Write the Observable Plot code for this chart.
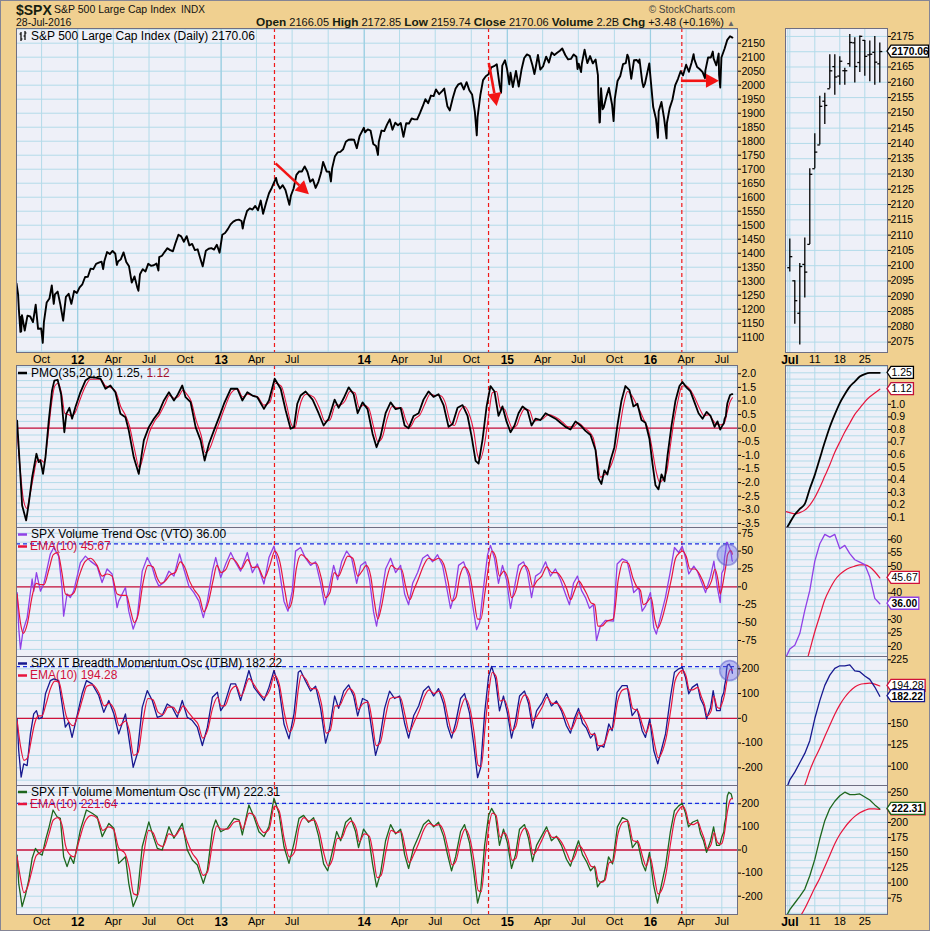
<!DOCTYPE html>
<html><head><meta charset="utf-8">
<script src="https://cdn.jsdelivr.net/npm/d3@7"></script>
<script src="https://cdn.jsdelivr.net/npm/@observablehq/plot@0.6"></script>
<style>
html,body{margin:0;padding:0;background:#f0d090;}
#root{position:relative;width:930px;height:931px;background:#f0d090;overflow:hidden;}
</style></head><body><div id="root"></div><script>
// ---------------- DATA ----------------
const spxWeekly = [["2011-07-29",1292],["2011-08-02",1254],["2011-08-04",1200],["2011-08-08",1119],["2011-08-09",1172],["2011-08-10",1121],["2011-08-12",1179],["2011-08-19",1124],["2011-08-26",1177],["2011-09-02",1174],["2011-09-09",1154],["2011-09-16",1216],["2011-09-22",1130],["2011-09-30",1131],["2011-10-04",1080],["2011-10-07",1155],["2011-10-14",1224],["2011-10-21",1238],["2011-10-27",1285],["2011-11-01",1219],["2011-11-04",1253],["2011-11-11",1263],["2011-11-18",1216],["2011-11-25",1159],["2011-12-02",1244],["2011-12-09",1255],["2011-12-16",1219],["2011-12-23",1265],["2011-12-30",1258],
["2012-01-06",1278],["2012-01-13",1289],["2012-01-20",1315],["2012-01-27",1316],["2012-02-03",1345],["2012-02-10",1343],["2012-02-17",1362],["2012-02-24",1366],["2012-03-02",1370],["2012-03-06",1343],["2012-03-09",1371],["2012-03-16",1404],["2012-03-23",1397],["2012-03-30",1408],["2012-04-06",1398],["2012-04-10",1358],["2012-04-13",1370],["2012-04-20",1378],["2012-04-27",1403],["2012-05-04",1369],["2012-05-11",1353],["2012-05-18",1295],["2012-05-25",1317],["2012-06-01",1278],["2012-06-04",1266],["2012-06-08",1325],["2012-06-15",1343],["2012-06-22",1335],["2012-06-29",1362],["2012-07-06",1355],["2012-07-13",1357],["2012-07-20",1363],["2012-07-25",1338],["2012-07-27",1386],["2012-08-03",1391],["2012-08-10",1405],["2012-08-17",1418],["2012-08-24",1411],["2012-08-31",1407],["2012-09-07",1438],["2012-09-14",1466],["2012-09-21",1460],["2012-09-28",1441],["2012-10-05",1461],["2012-10-12",1428],["2012-10-19",1433],["2012-10-26",1411],["2012-11-02",1414],["2012-11-09",1380],["2012-11-15",1353],["2012-11-23",1409],["2012-11-30",1416],["2012-12-07",1418],["2012-12-14",1413],["2012-12-21",1430],["2012-12-28",1402],
["2013-01-04",1466],["2013-01-11",1472],["2013-01-18",1486],["2013-01-25",1503],["2013-02-01",1513],["2013-02-08",1518],["2013-02-15",1520],["2013-02-22",1515],["2013-02-25",1488],["2013-03-01",1518],["2013-03-08",1551],["2013-03-15",1560],["2013-03-22",1556],["2013-03-29",1569],["2013-04-05",1553],["2013-04-12",1588],["2013-04-18",1541],["2013-04-26",1582],["2013-05-03",1614],["2013-05-10",1633],["2013-05-21",1669],["2013-05-24",1650],["2013-05-31",1631],["2013-06-07",1643],["2013-06-14",1626],["2013-06-24",1573],["2013-06-28",1606],["2013-07-05",1632],["2013-07-12",1680],["2013-07-19",1692],["2013-07-26",1692],["2013-08-02",1710],["2013-08-09",1691],["2013-08-16",1655],["2013-08-23",1664],["2013-08-30",1633],["2013-09-06",1655],["2013-09-13",1688],["2013-09-18",1726],["2013-09-27",1692],["2013-10-04",1691],["2013-10-08",1656],["2013-10-11",1703],["2013-10-18",1745],["2013-10-25",1760],["2013-11-01",1762],["2013-11-08",1771],["2013-11-15",1798],["2013-11-22",1805],["2013-11-29",1806],["2013-12-06",1805],["2013-12-13",1775],["2013-12-20",1818],["2013-12-31",1848],
["2014-01-03",1832],["2014-01-10",1842],["2014-01-17",1838],["2014-01-24",1790],["2014-01-31",1783],["2014-02-05",1751],["2014-02-07",1797],["2014-02-14",1838],["2014-02-21",1836],["2014-02-28",1859],["2014-03-07",1878],["2014-03-14",1841],["2014-03-21",1866],["2014-03-28",1857],["2014-04-04",1865],["2014-04-11",1816],["2014-04-18",1864],["2014-04-25",1863],["2014-05-02",1881],["2014-05-09",1878],["2014-05-16",1878],["2014-05-23",1900],["2014-05-30",1924],["2014-06-06",1950],["2014-06-13",1936],["2014-06-20",1963],["2014-06-27",1961],["2014-07-03",1985],["2014-07-11",1968],["2014-07-18",1978],["2014-07-24",1988],["2014-08-01",1925],["2014-08-07",1910],["2014-08-15",1955],["2014-08-22",1988],["2014-08-29",2003],["2014-09-05",2007],["2014-09-12",1985],["2014-09-19",2011],["2014-09-26",1982],["2014-10-03",1967],["2014-10-10",1906],["2014-10-15",1821],["2014-10-17",1886],["2014-10-24",1964],["2014-10-31",2018],["2014-11-07",2032],["2014-11-14",2039],["2014-11-21",2064],["2014-11-28",2068],["2014-12-05",2075],["2014-12-12",2002],["2014-12-16",1973],["2014-12-19",2070],["2014-12-26",2089],["2014-12-31",2059],
["2015-01-06",2003],["2015-01-09",2045],["2015-01-15",1993],["2015-01-23",2051],["2015-01-30",1995],["2015-02-06",2055],["2015-02-13",2097],["2015-02-20",2110],["2015-02-27",2105],["2015-03-06",2071],["2015-03-11",2040],["2015-03-13",2053],["2015-03-20",2108],["2015-03-26",2056],["2015-04-02",2067],["2015-04-10",2102],["2015-04-17",2081],["2015-04-24",2117],["2015-05-01",2108],["2015-05-08",2116],["2015-05-15",2123],["2015-05-21",2131],["2015-05-29",2107],["2015-06-05",2092],["2015-06-12",2094],["2015-06-19",2110],["2015-06-26",2102],["2015-06-29",2058],["2015-07-02",2077],["2015-07-08",2047],["2015-07-10",2077],["2015-07-17",2127],["2015-07-24",2079],["2015-07-31",2104],["2015-08-07",2078],["2015-08-14",2092],["2015-08-20",2036],["2015-08-21",1971],["2015-08-24",1867],["2015-08-25",1868],["2015-08-28",1989],["2015-09-01",1914],["2015-09-04",1921],["2015-09-11",1961],["2015-09-17",1990],["2015-09-25",1931],["2015-09-29",1872],["2015-10-02",1951],["2015-10-09",2015],["2015-10-16",2033],["2015-10-23",2075],["2015-10-30",2079],["2015-11-03",2109],["2015-11-06",2099],["2015-11-13",2023],["2015-11-20",2089],["2015-11-27",2090],["2015-12-02",2080],["2015-12-04",2092],["2015-12-11",2012],["2015-12-14",1993],["2015-12-18",2006],["2015-12-29",2078],["2015-12-31",2044],
["2016-01-08",1922],["2016-01-15",1880],["2016-01-20",1812],["2016-01-22",1907],["2016-01-29",1940],["2016-02-05",1880],["2016-02-11",1810],["2016-02-12",1865],["2016-02-19",1918],["2016-02-26",1948],["2016-03-04",1999],["2016-03-11",2022],["2016-03-18",2050],["2016-03-24",2035],["2016-04-01",2073],["2016-04-08",2048],["2016-04-15",2081],["2016-04-20",2111],["2016-04-22",2092],["2016-04-29",2065],["2016-05-06",2057],["2016-05-13",2047],["2016-05-19",2025],["2016-05-20",2052],["2016-05-27",2099],["2016-06-03",2099],["2016-06-08",2120],["2016-06-10",2096],["2016-06-17",2071],["2016-06-23",2113],["2016-06-24",2037],["2016-06-27",1992],["2016-06-30",2099],["2016-07-08",2130],["2016-07-15",2162],["2016-07-22",2175],["2016-07-28",2170]];

// oscillators: [decimal year, value]
const pmoLine = [[2011.577,0.28],[2011.595,-1.31],[2011.612,-2.84],[2011.640,-3.39],[2011.658,-2.78],[2011.682,-1.80],[2011.712,-0.94],[2011.728,-1.25],[2011.740,-1.19],[2011.758,-1.68],[2011.775,-1.07],[2011.798,0.28],[2011.821,1.39],[2011.837,1.75],[2011.860,1.78],[2011.884,1.26],[2011.907,-0.15],[2011.921,0.53],[2011.942,0.75],[2011.961,0.35],[2011.984,0.77],[2012.019,1.32],[2012.054,1.75],[2012.089,1.88],[2012.124,1.86],[2012.159,1.82],[2012.194,1.45],[2012.228,1.57],[2012.263,1.32],[2012.298,0.53],[2012.333,0.40],[2012.356,-0.08],[2012.391,-1.07],[2012.426,-1.68],[2012.461,-0.45],[2012.496,0.04],[2012.531,0.35],[2012.566,0.59],[2012.601,1.02],[2012.636,1.32],[2012.671,1.02],[2012.694,1.20],[2012.729,1.57],[2012.752,1.14],[2012.787,0.96],[2012.822,0.04],[2012.857,-0.45],[2012.885,-1.19],[2012.915,-0.57],[2012.950,-0.08],[2012.985,0.40],[2013.020,0.90],[2013.067,1.45],[2013.113,1.45],[2013.148,1.02],[2013.183,1.32],[2013.218,1.20],[2013.253,1.14],[2013.299,0.71],[2013.334,1.02],[2013.374,1.82],[2013.416,1.45],[2013.451,0.65],[2013.485,-0.02],[2013.509,0.04],[2013.532,0.90],[2013.555,1.20],
[2013.590,1.35],[2013.639,1.05],[2013.681,0.55],[2013.716,0.10],[2013.751,0.35],[2013.793,1.05],[2013.821,0.75],[2013.856,1.10],[2013.891,1.50],[2013.926,1.25],[2013.954,0.55],[2013.988,0.95],[2014.023,0.70],[2014.058,-0.20],[2014.086,-0.70],[2014.114,-0.30],[2014.149,0.55],[2014.184,0.95],[2014.219,0.70],[2014.254,0.75],[2014.282,0.10],[2014.310,0.00],[2014.345,0.45],[2014.380,0.55],[2014.414,1.05],[2014.449,1.35],[2014.484,1.15],[2014.519,1.25],[2014.554,0.85],[2014.589,0.05],[2014.617,0.15],[2014.652,0.75],[2014.687,0.85],[2014.722,0.45],[2014.750,-0.30],[2014.778,-1.20],[2014.799,-1.30],[2014.827,-0.40],[2014.855,0.80],[2014.882,1.55],[2014.910,1.35],[2014.938,0.45],[2014.966,0.80],[2014.994,0.25],[2015.022,-0.15],[2015.050,0.10],[2015.078,0.55],[2015.106,0.80],[2015.141,0.65],[2015.169,0.10],[2015.197,0.35],[2015.232,0.30],[2015.267,0.55],[2015.301,0.45],[2015.336,0.35],[2015.371,0.20],[2015.406,0.05],[2015.441,-0.05],[2015.476,0.25],[2015.511,0.10],[2015.546,-0.10],[2015.581,-0.25],[2015.616,-0.80],[2015.637,-1.85],[2015.657,-2.05],[2015.678,-1.55],[2015.699,-1.70],[2015.720,-1.20],[2015.748,-0.70],[2015.769,0.10],[2015.797,1.00],[2015.825,1.55],[2015.853,1.40],[2015.881,0.80],[2015.909,0.90],[2015.937,0.30],[2015.965,0.20],[2015.993,-0.40],[2016.014,-1.30],[2016.035,-2.10],[2016.056,-2.25],[2016.077,-1.70],[2016.098,-1.95],[2016.119,-1.00],[2016.147,0.10],[2016.174,1.00],[2016.202,1.55],[2016.223,1.70],[2016.251,1.50],[2016.279,1.35],[2016.307,0.95],[2016.335,0.55],[2016.363,0.35],[2016.391,0.60],[2016.419,0.45],[2016.447,0.05],[2016.467,0.25],[2016.486,-0.05],[2016.497,0.06],[2016.511,0.17],[2016.516,0.33],[2016.525,0.44],[2016.530,0.70],[2016.536,0.92],[2016.546,1.08],[2016.555,1.22],[2016.566,1.25],[2016.571,1.25]];
const pmoSignal = [[2011.577,-0.10],[2011.600,-1.60],[2011.620,-2.60],[2011.645,-2.95],[2011.665,-2.50],[2011.690,-1.80],[2011.715,-1.20],[2011.740,-1.15],[2011.765,-1.25],[2011.790,-0.40],[2011.815,0.80],[2011.840,1.55],[2011.865,1.65],[2011.890,1.20],[2011.910,0.55],[2011.935,0.50],[2011.960,0.45],[2011.985,0.60],[2012.020,1.10],[2012.055,1.55],[2012.090,1.80],[2012.160,1.80],[2012.195,1.55],[2012.230,1.50],[2012.265,1.35],[2012.300,0.80],[2012.335,0.45],[2012.360,0.10],[2012.395,-0.75],[2012.430,-1.45],[2012.465,-0.85],[2012.500,-0.15],[2012.535,0.25],[2012.570,0.50],[2012.605,0.85],[2012.640,1.20],[2012.675,1.10],[2012.700,1.15],[2012.735,1.40],[2012.760,1.25],[2012.790,1.00],[2012.825,0.30],[2012.860,-0.25],[2012.890,-0.90],[2012.920,-0.75],[2012.955,-0.25],[2012.990,0.25],[2013.025,0.75],[2013.070,1.30],[2013.115,1.45],[2013.150,1.15],[2013.185,1.25],[2013.220,1.20],[2013.255,1.15],[2013.300,0.85],[2013.340,0.95],[2013.380,1.65],[2013.420,1.55],[2013.455,0.90],[2013.490,0.15],[2013.515,0.00],[2013.540,0.60],[2013.560,1.00],[2013.595,1.25],[2013.645,1.15],[2013.690,0.70],[2013.725,0.25],[2013.760,0.30],[2013.800,0.85],[2013.830,0.85],[2013.865,1.00],[2013.900,1.35],[2013.935,1.30],[2013.965,0.75],[2013.995,0.85],[2014.030,0.75],[2014.065,0.05],[2014.095,-0.50],[2014.125,-0.35],[2014.160,0.35],[2014.195,0.80],[2014.230,0.75],[2014.260,0.75],[2014.290,0.30],[2014.320,0.05],[2014.355,0.35],[2014.390,0.50],[2014.425,0.90],[2014.460,1.25],[2014.495,1.20],[2014.530,1.20],[2014.565,0.95],[2014.600,0.25],[2014.630,0.10],[2014.665,0.60],[2014.700,0.80],[2014.735,0.50],[2014.765,-0.10],[2014.790,-0.95],[2014.810,-1.15],[2014.840,-0.60],[2014.870,0.50],[2014.895,1.30],[2014.925,1.35],[2014.950,0.75],[2014.980,0.70],[2015.005,0.35],[2015.035,0.00],[2015.065,0.10],[2015.090,0.45],[2015.120,0.70],[2015.155,0.65],[2015.185,0.25],[2015.215,0.30],[2015.250,0.35],[2015.285,0.50],[2015.320,0.45],[2015.355,0.35],[2015.390,0.20],[2015.425,0.05],[2015.460,0.05],[2015.495,0.20],[2015.530,0.05],[2015.565,-0.10],[2015.600,-0.35],[2015.630,-1.20],[2015.650,-1.80],[2015.670,-1.75],[2015.700,-1.60],[2015.730,-1.30],[2015.760,-0.75],[2015.785,0.00],[2015.810,0.80],[2015.840,1.35],[2015.870,1.20],[2015.900,0.90],[2015.925,0.65],[2015.955,0.30],[2015.985,-0.05],[2016.010,-0.70],[2016.040,-1.60],[2016.065,-2.00],[2016.090,-1.85],[2016.115,-1.55],[2016.140,-0.60],[2016.165,0.30],[2016.195,1.10],[2016.220,1.55],[2016.250,1.55],[2016.285,1.35],[2016.315,1.05],[2016.345,0.70],[2016.375,0.45],[2016.405,0.50],[2016.435,0.30],[2016.460,0.15],[2016.486,0.12],[2016.497,0.14],[2016.516,0.20],[2016.536,0.62],[2016.555,0.97],[2016.571,1.12]];

const vtoLine = [[2011.577,-8],[2011.588,-57],[2011.600,-87],[2011.619,-61],[2011.647,-43],[2011.682,11],[2011.693,-6],[2011.712,20],[2011.740,-6],[2011.763,4],[2011.809,46],[2011.833,55],[2011.867,43],[2011.891,-1],[2011.902,-41],[2011.926,-10],[2011.949,-15],[2011.972,-6],[2012.019,34],[2012.054,43],[2012.089,36],[2012.135,29],[2012.170,6],[2012.205,25],[2012.240,18],[2012.275,-29],[2012.286,-20],[2012.333,-1],[2012.356,-34],[2012.387,-59],[2012.415,-43],[2012.450,22],[2012.485,41],[2012.520,27],[2012.543,11],[2012.566,1],[2012.601,6],[2012.636,22],[2012.671,15],[2012.710,46],[2012.740,25],[2012.775,1],[2012.810,-8],[2012.845,-20],[2012.876,-43],[2012.904,-20],[2012.939,22],[2012.962,41],[2012.997,13],[2013.032,32],[2013.067,48],[2013.101,34],[2013.136,22],[2013.183,48],[2013.218,20],[2013.253,32],[2013.299,4],[2013.334,41],[2013.369,57],[2013.404,27],[2013.439,-20],[2013.467,-34],[2013.497,-6],[2013.520,50],[2013.555,55],
[2013.590,40],[2013.625,30],[2013.660,35],[2013.695,5],[2013.723,-25],[2013.751,-5],[2013.786,30],[2013.814,10],[2013.842,35],[2013.877,50],[2013.912,40],[2013.947,5],[2013.975,30],[2014.009,35],[2014.037,10],[2014.065,-35],[2014.086,-55],[2014.114,-20],[2014.149,25],[2014.184,40],[2014.219,20],[2014.254,30],[2014.282,-10],[2014.310,-25],[2014.338,5],[2014.373,20],[2014.408,40],[2014.442,45],[2014.477,35],[2014.512,45],[2014.547,30],[2014.575,0],[2014.603,-30],[2014.631,-10],[2014.659,30],[2014.694,35],[2014.729,15],[2014.757,-25],[2014.785,-60],[2014.806,-50],[2014.834,0],[2014.862,45],[2014.882,58],[2014.910,40],[2014.938,5],[2014.966,30],[2014.994,10],[2015.022,-30],[2015.050,0],[2015.078,30],[2015.113,35],[2015.141,20],[2015.169,-15],[2015.197,15],[2015.232,20],[2015.267,35],[2015.301,15],[2015.336,25],[2015.371,10],[2015.406,-10],[2015.434,-25],[2015.462,5],[2015.490,15],[2015.518,-5],[2015.546,-15],[2015.574,-30],[2015.601,-25],[2015.623,-75],[2015.650,-55],[2015.685,-47],[2015.741,-48],[2015.767,32],[2015.802,39],[2015.837,36],[2015.872,4],[2015.883,-8],[2015.918,-1],[2015.942,-34],[2015.965,-27],[2016.000,-8],[2016.023,-57],[2016.041,-66],[2016.069,-43],[2016.104,-15],[2016.139,22],[2016.167,55],[2016.197,48],[2016.221,57],[2016.244,41],[2016.267,18],[2016.302,29],[2016.326,22],[2016.361,4],[2016.384,-8],[2016.419,15],[2016.442,36],[2016.466,-1],[2016.486,-22],[2016.497,19],[2016.511,25],[2016.516,41],[2016.525,52],[2016.530,62],[2016.536,62],[2016.544,57],[2016.555,52],[2016.563,46],[2016.568,38],[2016.571,36]];
const vtoEma = [[2011.577,-10],[2011.600,-50],[2011.620,-65],[2011.650,-50],[2011.680,-15],[2011.710,5],[2011.740,3],[2011.765,3],[2011.800,25],[2011.830,45],[2011.860,48],[2011.890,20],[2011.915,-10],[2011.945,-12],[2011.975,-8],[2012.010,15],[2012.050,35],[2012.090,40],[2012.135,30],[2012.170,15],[2012.205,18],[2012.240,15],[2012.275,-10],[2012.310,-12],[2012.340,-12],[2012.365,-30],[2012.395,-50],[2012.420,-40],[2012.455,5],[2012.490,30],[2012.525,28],[2012.555,12],[2012.580,5],[2012.610,8],[2012.645,17],[2012.680,20],[2012.715,35],[2012.745,28],[2012.780,8],[2012.815,-5],[2012.850,-15],[2012.880,-35],[2012.910,-22],[2012.945,10],[2012.970,30],[2013.000,20],[2013.035,25],[2013.070,40],[2013.105,35],[2013.140,25],[2013.185,38],[2013.220,27],[2013.255,28],[2013.300,12],[2013.340,30],[2013.375,50],[2013.410,35],[2013.445,-5],[2013.472,-30],[2013.500,-15],[2013.525,25],[2013.560,45],[2013.595,40],[2013.630,33],[2013.665,33],[2013.700,12],[2013.730,-15],[2013.760,-8],[2013.790,20],[2013.820,15],[2013.850,28],[2013.885,43],[2013.920,40],[2013.955,15],[2013.985,22],[2014.015,30],[2014.045,15],[2014.070,-20],[2014.095,-45],[2014.120,-28],[2014.155,10],[2014.190,30],[2014.225,25],[2014.260,25],[2014.290,0],[2014.318,-18],[2014.345,-5],[2014.380,12],[2014.415,30],[2014.450,40],[2014.485,37],[2014.520,40],[2014.555,32],[2014.585,8],[2014.612,-20],[2014.640,-15],[2014.668,15],[2014.700,28],[2014.735,18],[2014.765,-15],[2014.792,-45],[2014.815,-45],[2014.842,-10],[2014.870,30],[2014.892,50],[2014.918,42],[2014.945,15],[2014.975,22],[2015.003,12],[2015.030,-15],[2015.060,-5],[2015.088,20],[2015.120,30],[2015.150,22],[2015.178,0],[2015.205,8],[2015.240,15],[2015.275,28],[2015.310,20],[2015.345,20],[2015.380,12],[2015.415,-3],[2015.442,-18],[2015.470,-5],[2015.500,8],[2015.528,0],[2015.555,-10],[2015.583,-22],[2015.610,-25],[2015.633,-55],[2015.660,-55],[2015.695,-48],[2015.740,-45],[2015.775,10],[2015.810,35],[2015.845,33],[2015.878,12],[2015.905,0],[2015.930,-5],[2015.950,-25],[2015.975,-22],[2016.005,-15],[2016.030,-45],[2016.050,-58],[2016.080,-45],[2016.110,-22],[2016.145,10],[2016.175,40],[2016.205,48],[2016.225,50],[2016.250,42],[2016.275,25],[2016.310,25],[2016.335,20],[2016.365,8],[2016.390,-3],[2016.425,8],[2016.450,25],[2016.472,8],[2016.486,-10],[2016.497,-3],[2016.516,18],[2016.527,31],[2016.536,44],[2016.548,49],[2016.555,50.6],[2016.563,50],[2016.571,45.67]];

const itbmLine = [[2011.577,-2],[2011.588,-130],[2011.605,-238],[2011.623,-184],[2011.647,-191],[2011.670,-63],[2011.693,18],[2011.712,31],[2011.728,-2],[2011.752,4],[2011.775,99],[2011.809,152],[2011.833,159],[2011.867,152],[2011.891,58],[2011.914,-36],[2011.937,-16],[2011.961,-77],[2011.996,11],[2012.031,99],[2012.061,152],[2012.101,139],[2012.147,92],[2012.182,24],[2012.217,72],[2012.252,18],[2012.286,-63],[2012.333,18],[2012.356,-77],[2012.387,-198],[2012.415,-144],[2012.450,44],[2012.485,112],[2012.520,72],[2012.555,4],[2012.589,11],[2012.624,58],[2012.659,44],[2012.694,4],[2012.729,72],[2012.764,4],[2012.799,-9],[2012.834,-36],[2012.869,-110],[2012.904,-36],[2012.939,85],[2012.974,105],[2012.997,31],[2013.020,51],[2013.067,139],[2013.101,139],[2013.136,72],[2013.194,193],[2013.229,125],[2013.264,99],[2013.299,72],[2013.334,125],[2013.369,193],[2013.404,125],[2013.439,-23],[2013.474,-83],[2013.509,18],[2013.539,186],[2013.555,193],
[2013.590,150],[2013.625,110],[2013.660,130],[2013.695,40],[2013.730,-100],[2013.758,-40],[2013.793,90],[2013.821,40],[2013.856,110],[2013.891,135],[2013.926,90],[2013.954,10],[2013.988,80],[2014.023,70],[2014.051,-40],[2014.079,-150],[2014.107,-90],[2014.142,40],[2014.177,110],[2014.212,80],[2014.247,90],[2014.282,-20],[2014.310,-80],[2014.345,10],[2014.380,50],[2014.414,110],[2014.449,130],[2014.484,90],[2014.519,120],[2014.554,60],[2014.582,-30],[2014.610,-80],[2014.638,-20],[2014.673,80],[2014.701,100],[2014.736,20],[2014.764,-100],[2014.792,-240],[2014.813,-200],[2014.841,20],[2014.869,170],[2014.890,210],[2014.917,160],[2014.945,30],[2014.973,90],[2015.001,20],[2015.029,-80],[2015.057,-10],[2015.085,90],[2015.120,110],[2015.148,60],[2015.176,-40],[2015.204,30],[2015.239,60],[2015.274,100],[2015.308,50],[2015.343,70],[2015.378,30],[2015.413,-30],[2015.441,-60],[2015.469,0],[2015.497,40],[2015.525,-20],[2015.553,-40],[2015.581,-80],[2015.609,-60],[2015.630,-130],[2015.651,-110],[2015.674,-117],[2015.709,-23],[2015.732,-50],[2015.767,105],[2015.802,132],[2015.837,132],[2015.872,11],[2015.907,38],[2015.942,-50],[2015.965,-77],[2015.995,-2],[2016.023,-130],[2016.051,-184],[2016.081,-117],[2016.105,-63],[2016.139,85],[2016.167,186],[2016.197,200],[2016.221,206],[2016.244,166],[2016.267,99],[2016.291,125],[2016.326,139],[2016.349,78],[2016.372,51],[2016.391,-2],[2016.419,44],[2016.437,112],[2016.461,31],[2016.486,31],[2016.497,84],[2016.511,104],[2016.516,130],[2016.525,156],[2016.530,195],[2016.536,215],[2016.546,218],[2016.549,219],[2016.555,211],[2016.563,206],[2016.568,193],[2016.571,182.22]];
const itbmEma = [[2011.577,-10],[2011.600,-110],[2011.625,-170],[2011.650,-160],[2011.675,-90],[2011.700,-20],[2011.725,10],[2011.750,10],[2011.780,60],[2011.810,120],[2011.840,150],[2011.870,145],[2011.895,80],[2011.920,10],[2011.945,-20],[2011.970,-30],[2012.000,10],[2012.035,80],[2012.065,130],[2012.105,135],[2012.150,100],[2012.185,50],[2012.220,60],[2012.255,35],[2012.290,-30],[2012.335,-10],[2012.360,-50],[2012.390,-150],[2012.420,-140],[2012.455,-10],[2012.490,80],[2012.525,75],[2012.560,25],[2012.595,15],[2012.630,45],[2012.665,45],[2012.700,20],[2012.735,50],[2012.770,25],[2012.805,0],[2012.840,-25],[2012.872,-80],[2012.905,-50],[2012.940,40],[2012.975,85],[2013.000,50],[2013.025,50],[2013.070,115],[2013.105,130],[2013.140,90],[2013.195,160],[2013.230,135],[2013.265,105],[2013.300,85],[2013.340,115],[2013.372,175],[2013.405,140],[2013.442,20],[2013.478,-55],[2013.512,-10],[2013.540,120],[2013.560,175],[2013.595,155],[2013.630,120],[2013.665,120],[2013.700,60],[2013.735,-60],[2013.762,-50],[2013.797,50],[2013.825,50],[2013.860,90],[2013.895,120],[2013.930,100],[2013.958,35],[2013.992,60],[2014.027,65],[2014.055,-10],[2014.083,-110],[2014.111,-100],[2014.146,0],[2014.181,80],[2014.216,85],[2014.251,85],[2014.286,10],[2014.314,-55],[2014.349,-15],[2014.384,30],[2014.418,85],[2014.453,115],[2014.488,100],[2014.523,110],[2014.558,75],[2014.586,0],[2014.614,-60],[2014.642,-40],[2014.677,45],[2014.705,80],[2014.740,35],[2014.768,-60],[2014.796,-190],[2014.817,-195],[2014.845,-30],[2014.873,120],[2014.894,185],[2014.921,170],[2014.949,70],[2014.977,75],[2015.005,35],[2015.033,-50],[2015.061,-30],[2015.089,60],[2015.124,95],[2015.152,70],[2015.180,-10],[2015.208,10],[2015.243,45],[2015.278,85],[2015.312,60],[2015.347,60],[2015.382,35],[2015.417,-10],[2015.445,-45],[2015.473,-15],[2015.501,25],[2015.529,0],[2015.557,-30],[2015.585,-65],[2015.613,-65],[2015.634,-110],[2015.655,-110],[2015.680,-100],[2015.713,-45],[2015.736,-40],[2015.771,70],[2015.806,115],[2015.841,120],[2015.876,40],[2015.911,30],[2015.946,-30],[2015.969,-60],[2015.999,-20],[2016.027,-100],[2016.055,-160],[2016.085,-130],[2016.109,-80],[2016.143,40],[2016.171,150],[2016.201,185],[2016.225,195],[2016.248,170],[2016.271,115],[2016.295,115],[2016.330,125],[2016.353,90],[2016.376,55],[2016.395,10],[2016.423,30],[2016.441,90],[2016.465,45],[2016.481,40],[2016.497,57],[2016.516,95],[2016.536,161],[2016.555,196],[2016.563,197.5],[2016.571,194.28]];

const itvmLine = [[2011.577,-22],[2011.588,-144],[2011.612,-245],[2011.635,-195],[2011.658,-130],[2011.682,-36],[2011.705,7],[2011.728,-14],[2011.752,-22],[2011.775,43],[2011.798,94],[2011.828,173],[2011.856,144],[2011.879,137],[2011.902,-29],[2011.926,-72],[2011.949,-29],[2011.972,-58],[2012.019,87],[2012.061,173],[2012.101,159],[2012.136,144],[2012.171,58],[2012.217,115],[2012.252,94],[2012.286,-58],[2012.333,-29],[2012.356,-144],[2012.387,-245],[2012.415,-202],[2012.450,14],[2012.496,122],[2012.520,72],[2012.555,7],[2012.589,0],[2012.636,101],[2012.671,51],[2012.729,115],[2012.764,0],[2012.799,-43],[2012.834,-65],[2012.876,-144],[2012.904,-87],[2012.939,87],[2012.962,130],[2012.997,79],[2013.043,94],[2013.090,137],[2013.125,130],[2013.148,65],[2013.194,195],[2013.229,144],[2013.264,79],[2013.299,58],[2013.334,101],[2013.369,224],[2013.404,159],[2013.439,14],[2013.474,-58],[2013.509,29],[2013.544,137],
[2013.576,150],[2013.611,120],[2013.646,140],[2013.681,60],[2013.716,-60],[2013.744,-90],[2013.772,-20],[2013.807,80],[2013.835,40],[2013.870,120],[2013.905,140],[2013.939,80],[2013.960,10],[2013.995,90],[2014.030,60],[2014.058,-60],[2014.086,-160],[2014.114,-100],[2014.149,40],[2014.184,110],[2014.219,70],[2014.254,90],[2014.282,-20],[2014.310,-80],[2014.345,10],[2014.380,60],[2014.414,110],[2014.449,130],[2014.484,100],[2014.519,120],[2014.554,60],[2014.582,-20],[2014.610,-90],[2014.638,-30],[2014.673,80],[2014.701,110],[2014.736,30],[2014.764,-90],[2014.792,-230],[2014.813,-180],[2014.841,20],[2014.869,150],[2014.890,180],[2014.917,150],[2014.945,20],[2014.973,90],[2015.001,30],[2015.029,-80],[2015.057,-20],[2015.085,90],[2015.120,110],[2015.148,50],[2015.176,-50],[2015.204,20],[2015.239,60],[2015.274,100],[2015.308,40],[2015.343,60],[2015.378,20],[2015.413,-40],[2015.441,-70],[2015.469,-10],[2015.497,40],[2015.525,-20],[2015.553,-50],[2015.581,-90],[2015.609,-70],[2015.630,-160],[2015.651,-140],[2015.679,-130],[2015.707,-30],[2015.735,-60],[2015.769,100],[2015.804,140],[2015.839,130],[2015.874,10],[2015.909,40],[2015.944,-60],[2015.965,-90],[2015.993,-10],[2016.021,-150],[2016.049,-230],[2016.077,-150],[2016.105,-70],[2016.139,80],[2016.167,170],[2016.195,190],[2016.221,202],[2016.244,160],[2016.265,100],[2016.293,120],[2016.328,130],[2016.349,70],[2016.370,40],[2016.391,-10],[2016.419,40],[2016.440,100],[2016.461,20],[2016.482,20],[2016.497,56],[2016.511,78],[2016.516,112],[2016.525,139],[2016.530,203],[2016.536,235],[2016.546,250],[2016.555,246],[2016.563,242],[2016.568,229],[2016.571,222.31]];
const itvmEma = [[2011.577,-30],[2011.600,-120],[2011.625,-185],[2011.650,-160],[2011.680,-90],[2011.710,-25],[2011.740,-10],[2011.770,10],[2011.800,70],[2011.830,130],[2011.860,140],[2011.890,110],[2011.915,20],[2011.945,-20],[2011.975,-30],[2012.010,40],[2012.050,120],[2012.095,150],[2012.140,135],[2012.175,85],[2012.215,100],[2012.250,90],[2012.285,10],[2012.330,-15],[2012.360,-80],[2012.390,-190],[2012.420,-195],[2012.455,-40],[2012.495,85],[2012.525,75],[2012.560,25],[2012.595,15],[2012.635,70],[2012.675,60],[2012.725,95],[2012.765,35],[2012.800,-15],[2012.835,-45],[2012.875,-110],[2012.905,-95],[2012.940,30],[2012.970,105],[2013.000,90],[2013.045,90],[2013.090,120],[2013.125,125],[2013.150,90],[2013.195,160],[2013.230,150],[2013.265,100],[2013.300,75],[2013.335,90],[2013.372,190],[2013.405,170],[2013.440,50],[2013.477,-30],[2013.512,-10],[2013.545,100],[2013.580,140],[2013.615,125],[2013.650,130],[2013.685,80],[2013.720,-20],[2013.750,-70],[2013.778,-40],[2013.812,50],[2013.840,50],[2013.875,100],[2013.910,125],[2013.945,90],[2013.965,35],[2014.000,70],[2014.035,60],[2014.063,-20],[2014.090,-120],[2014.118,-110],[2014.153,0],[2014.188,85],[2014.223,75],[2014.258,80],[2014.286,10],[2014.314,-55],[2014.349,-15],[2014.384,35],[2014.418,90],[2014.453,115],[2014.488,105],[2014.523,110],[2014.558,75],[2014.586,5],[2014.614,-65],[2014.642,-45],[2014.677,50],[2014.705,90],[2014.740,45],[2014.768,-50],[2014.796,-175],[2014.817,-180],[2014.845,-30],[2014.873,110],[2014.894,160],[2014.921,150],[2014.949,55],[2014.977,75],[2015.005,45],[2015.033,-45],[2015.061,-35],[2015.089,60],[2015.124,95],[2015.152,65],[2015.180,-20],[2015.208,0],[2015.243,45],[2015.278,85],[2015.312,55],[2015.347,55],[2015.382,30],[2015.417,-15],[2015.445,-50],[2015.473,-25],[2015.501,20],[2015.529,0],[2015.557,-35],[2015.585,-70],[2015.613,-75],[2015.634,-130],[2015.655,-140],[2015.683,-130],[2015.711,-55],[2015.739,-50],[2015.773,70],[2015.808,120],[2015.843,125],[2015.878,40],[2015.913,35],[2015.948,-35],[2015.969,-70],[2015.997,-30],[2016.025,-110],[2016.053,-190],[2016.081,-170],[2016.109,-100],[2016.143,40],[2016.171,140],[2016.199,175],[2016.225,190],[2016.248,165],[2016.269,115],[2016.297,110],[2016.332,120],[2016.353,85],[2016.374,50],[2016.395,5],[2016.423,25],[2016.444,75],[2016.465,35],[2016.486,25],[2016.497,28],[2016.516,75],[2016.536,165],[2016.555,216],[2016.566,222.5],[2016.571,221.64]];

// horizontal reference levels (recent highs)
const vtoHigh = 60, itbmHigh = 209, itvmHigh = 202;
const signalDates = ["2013-05-17","2014-11-14","2016-03-21"];
const arrowsData = [
  {x1:"2013-05-21", y1:1719, x2:"2013-08-14", y2:1609},
  {x1:"2014-11-16", y1:2078, x2:"2014-12-06", y2:1924},
  {x1:"2016-03-20", y1:2014, x2:"2016-06-25", y2:2014}
];
const highlightVto = {date:"2016-07-16", v:45};
const highlightItbm = {date:"2016-07-21", v:193};

// last-month daily bars (Jun 30 .. Jul 28, 2016)
const miniDates = ["2016-06-30","2016-07-01","2016-07-05","2016-07-06","2016-07-07","2016-07-08","2016-07-11","2016-07-12","2016-07-13","2016-07-14","2016-07-15","2016-07-18","2016-07-19","2016-07-20","2016-07-21","2016-07-22","2016-07-25","2016-07-26","2016-07-27","2016-07-28"];
const barOpen  = [null,2099.34,2095.05,2084.43,2100.42,2106.97,2131.72,2139.50,2153.81,2157.88,2165.13,2162.04,2163.79,2166.10,2172.91,2166.47,2173.71,2168.97,2169.81,2166.05];
const barHigh  = [null,2108.71,2095.05,2100.72,2109.08,2131.71,2143.16,2155.40,2156.45,2169.05,2169.05,2168.35,2164.63,2175.63,2174.56,2175.11,2173.71,2173.54,2174.98,2172.85];
const barLow   = [null,2097.90,2080.86,2074.02,2089.39,2106.97,2131.72,2139.50,2146.21,2157.88,2155.79,2159.07,2159.01,2164.89,2159.75,2163.24,2161.95,2160.18,2159.07,2159.74];
const barClose = [null,2102.95,2088.55,2099.73,2097.90,2129.90,2137.16,2152.14,2152.43,2163.75,2161.74,2166.89,2163.78,2173.02,2165.17,2175.03,2168.48,2169.18,2166.58,2170.06];
const miniPmo    = [-0.01,0.06,0.125,0.17,0.21,0.33,0.44,0.57,0.70,0.82,0.92,1.01,1.08,1.14,1.18,1.22,1.24,1.25,1.25,1.25];
const miniPmoSig = [0.15,0.14,0.13,0.14,0.16,0.20,0.26,0.34,0.43,0.52,0.62,0.70,0.78,0.85,0.92,0.97,1.02,1.06,1.09,1.12];
const miniVto    = [15,19,20.4,24.8,33.5,41,52,58.5,62,61,62,56.6,57.9,54.8,52.5,51.6,50.7,46,38,36];
const miniVtoEma = [-6,-3,1,6,12,18.6,25.5,31.5,37.5,41.5,44.8,47,48.5,49.5,50.1,50.6,50.6,49.8,48,45.67];
const miniItbm    = [68,84,93,104,115,130,156,177,195,207,215,218,218,219,212,211,206,202,193,182.22];
const miniItbmEma = [50,57,63,70,78,95,109,121,135,148,161,172,181,188,193,196,197,197.5,196.5,194.28];
const miniItvm    = [40,56,67,78,90,112,139,173,203,223,235,244,250,246,246,247,242,237,229,222.31];
const miniItvmEma = [20,28,36,44,58,75,92,108,127,146,165,180,192,202,210,216,220,222.5,222.5,221.64];

// axis tick labels
const priceTicks = [1100,1150,1200,1250,1300,1350,1400,1450,1500,1550,1600,1650,1700,1750,1800,1850,1900,1950,2000,2050,2100,2150];
const pmoTicks = [2.0,1.5,1.0,0.5,0.0,-0.5,-1.0,-1.5,-2.0,-2.5,-3.0,-3.5];
const vtoTicks = [75,50,25,0,-25,-50,-75];
const itbmTicks = [200,100,0,-100,-200];
const itvmTicks = [200,100,0,-100,-200];
const miniPriceTicks = [2075,2080,2085,2090,2095,2100,2105,2110,2115,2120,2125,2130,2135,2140,2145,2150,2155,2160,2165,2170,2175];
const miniPmoTicks = [0.1,0.2,0.3,0.4,0.5,0.6,0.7,0.8,0.9,1.0,1.1,1.2,1.3];
const miniVtoTicks = [20,25,30,35,40,45,50,55,60];
const miniItbmTicks = [100,125,150,175,200,225];
const miniItvmTicks = [75,100,125,150,175,200,225,250];
const monthTickDates = ["2011-10-01","2012-04-01","2012-07-01","2012-10-01","2013-04-01","2013-07-01","2014-04-01","2014-07-01","2014-10-01","2015-04-01","2015-07-01","2015-10-01","2016-04-01","2016-07-01"];
const yearTickDates = ["2012-01-01","2013-01-01","2014-01-01","2015-01-01","2016-01-01"];
const quarterGridDates = ["2011-10-01","2012-01-01","2012-04-01","2012-07-01","2012-10-01","2013-01-01","2013-04-01","2013-07-01","2013-10-01","2014-01-01","2014-04-01","2014-07-01","2014-10-01","2015-01-01","2015-04-01","2015-07-01","2015-10-01","2016-01-01","2016-04-01","2016-07-01"];
const miniWeekTicks = [5,10,15];
const miniWeekLabels = ["11","18","25"];

// ---------------- STYLE ----------------
const FONT = '"Liberation Sans", Arial, Helvetica, sans-serif';
const PANEL_BG = "#eef0f8", GRID = "#b3dbe9", YEARGRID = "#9ccfe2", FRAME = "#6e6e82";
const ZERO = "#d0103a", EMA = "#e8143c", DASHRED = "#f01818";
const C_VTO = "#9040e6", C_ITBM = "#18188f", C_ITVM = "#1d661d";

const root = document.getElementById("root");
const toDate = t => { const Y = Math.floor(t), a = Date.UTC(Y,0,1), b = Date.UTC(Y+1,0,1); return new Date(a + (t - Y) * (b - a)); };
const series = arr => arr.map(([t, v]) => ({date: toDate(t), v}));
const D = s => new Date(s);
const xDomain = [D("2011-07-29"), D("2016-08-10")];
const miniDomain = [-0.86, 19.54];
const mini = arr => arr.map((v, k) => ({i: k - 1, v})).filter(d => d.v != null);

function place(node, left, top) {
  node.style.position = "absolute"; node.style.left = left + "px"; node.style.top = top + "px";
  root.appendChild(node); return node;
}
const styleObj = {background: "transparent", fontFamily: FONT, fontSize: "10.5px", color: "#000", overflow: "visible", maxWidth: "none"};

function leftPanel({top, h, yDomain, yTicks, yFmt, yGrid, marks, xAxis}) {
  const mb = xAxis ? 16 : 0;
  const svg = Plot.plot({
    width: 770, height: 1 + h + mb, marginLeft: 1, marginTop: 1, marginRight: 48, marginBottom: mb,
    x: {type: "utc", domain: xDomain, axis: null},
    y: {domain: yDomain, axis: null},
    style: styleObj,
    marks: [
      Plot.frame({fill: PANEL_BG}),
      Plot.gridY(yGrid, {stroke: GRID, strokeOpacity: 1}),
      Plot.gridX(quarterGridDates.map(D), {stroke: GRID, strokeOpacity: 1}),
      Plot.gridX(yearTickDates.map(D), {stroke: YEARGRID, strokeOpacity: 1, strokeWidth: 1.2}),
      ...marks,
      Plot.frame({stroke: FRAME}),
      Plot.axisY(yTicks, {anchor: "right", label: null, tickSize: 3, tickPadding: 1, tickFormat: yFmt, fontSize: 10.5}),
      ...(xAxis ? [
        Plot.axisX(monthTickDates.map(D), {anchor: "bottom", label: null, tickSize: 0, tickPadding: 3, tickFormat: d3.utcFormat("%b"), fontSize: 11}),
        Plot.axisX(yearTickDates.map(D), {anchor: "bottom", label: null, tickSize: 0, tickPadding: 3, tickFormat: d3.utcFormat("%y"), fontSize: 12, fontWeight: "bold"})
      ] : [])
    ]
  });
  return place(svg, 15, top - 1);
}
function tag(svg, value, label, color, bold) {
  const y = svg.scale("y").apply(value), x0 = 103;
  const g = d3.select(svg).append("g").attr("text-anchor", "start");
  const poly = g.append("polygon");
  const t = g.append("text").attr("x", x0 + 4.5).attr("y", y + 3.8).attr("font-family", FONT).attr("font-size", bold ? 10.3 : 10.5)
    .attr("text-anchor", "start").attr("font-weight", bold ? "bold" : null).attr("fill", "#000").text(label);
  let w = t.node().getComputedTextLength();
  if (!(w > 0)) w = label.length * 5.6;
  const x1 = Math.min(x0 + 4.5 + w + 1.5, 144.5);
  poly.attr("points", `${x0},${y} ${x0+4},${y-6} ${x1},${y-6} ${x1},${y+6} ${x0+4},${y+6}`)
    .attr("fill", "#fff").attr("stroke", color).attr("stroke-width", 1.3);
}
function rightPanel({top, h, yDomain, yTicks, yFmt, yGrid, marks, xAxis, tags}) {
  const mb = xAxis ? 16 : 0;
  const pxPerUnit = h / (yDomain[1] - yDomain[0]);
  const shown = yTicks.filter(v => !tags.some(t => Math.abs(v - t[0]) * pxPerUnit < 6.5));
  const svg = Plot.plot({
    width: 146, height: 1 + h + mb, marginLeft: 1, marginTop: 1, marginRight: 43, marginBottom: mb,
    x: {type: "linear", domain: miniDomain, axis: null},
    y: {domain: yDomain, axis: null},
    style: styleObj,
    marks: [
      Plot.frame({fill: PANEL_BG}),
      Plot.gridY(yGrid, {stroke: GRID, strokeOpacity: 1}),
      Plot.gridX([-0.4, 0, ...miniWeekTicks], {stroke: GRID, strokeOpacity: 1}),
      ...marks,
      Plot.frame({stroke: FRAME}),
      Plot.axisY(shown, {anchor: "right", label: null, tickSize: 3, tickPadding: 0, tickFormat: yFmt, fontSize: 10.5}),
      ...(xAxis ? [
        Plot.axisX([0], {anchor: "bottom", label: null, tickSize: 0, tickPadding: 3, tickFormat: () => "Jul", fontSize: 12, fontWeight: "bold"}),
        Plot.axisX(miniWeekTicks, {anchor: "bottom", label: null, tickSize: 0, tickPadding: 3, tickFormat: d => miniWeekLabels[miniWeekTicks.indexOf(d)], fontSize: 11})
      ] : [])
    ]
  });
  place(svg, 784, top - 1);
  for (const t of tags) tag(svg, ...t);
  return svg;
}

function legend(svg, offX, offY, items) {
  const g = d3.select(svg).append("g").attr("font-family", FONT).attr("font-size", 12).attr("text-anchor", "start");
  for (const L of items) {
    if (L.swatch) g.append("line").attr("x1", 18 - offX).attr("x2", 27 - offX).attr("y1", L.y - 3.5 - offY).attr("y2", L.y - 3.5 - offY).attr("stroke", L.swatch).attr("stroke-width", 2.5);
    const t = g.append("text").attr("x", L.x - offX).attr("y", L.y - offY).attr("text-anchor", "start");
    for (const p of L.parts) t.append("tspan").attr("fill", p.fill || "#000").text(p.text);
  }
}

// ---------------- HEADER ----------------
const hdr = d3.create("svg").attr("width", 930).attr("height", 28).attr("font-family", FONT).attr("text-anchor", "start");
hdr.append("text").attr("x", 16).attr("y", 14.5).attr("font-size", 14).attr("font-weight", "bold").attr("fill", "#16200f").text("$SPX");
hdr.append("text").attr("x", 54).attr("y", 13).attr("font-size", 10.5).attr("fill", "#111").text("S&P 500 Large Cap Index");
hdr.append("text").attr("x", 181).attr("y", 13).attr("font-size", 10).attr("fill", "#111").text("INDX");
hdr.append("text").attr("x", 16).attr("y", 25.5).attr("font-size", 10.5).attr("fill", "#111").text("28-Jul-2016");
hdr.append("text").attr("x", 735).attr("y", 13).attr("font-size", 10).attr("text-anchor", "end").attr("fill", "#444").text("\u00A9 StockCharts.com");
{
  const t = hdr.append("text").attr("x", 735).attr("y", 25.5).attr("text-anchor", "end").attr("font-size", 11).attr("fill", "#111");
  const parts = [["Open",1],[" 2166.05  ",0],["High",1],[" 2172.85  ",0],["Low",1],[" 2159.74  ",0],["Close",1],[" 2170.06  ",0],["Volume",1],[" 2.2B  ",0],["Chg",1],[" +3.48 (+0.16%) ",0]];
  for (const [s, b] of parts) t.append("tspan").attr("font-weight", b ? "bold" : null).attr("font-size", b ? 11.8 : 11).attr("fill", b ? "#16200f" : "#111").text(s);
  t.append("tspan").attr("fill", "#666").attr("font-size", 8).text("\u25B2");
}
place(hdr.node(), 0, 0);

// ---------------- MAIN PRICE ----------------
const spx = spxWeekly.map(([d, v]) => ({date: D(d), v}));
const ruleSignals = () => Plot.ruleX(signalDates.map(D), {stroke: DASHRED, strokeDasharray: "4,3", strokeWidth: 1.2});
const mainSvg = leftPanel({
  top: 28, h: 324, yDomain: [1045.4, 2202.5], yTicks: priceTicks, yFmt: d => String(d),
  yGrid: d3.range(1050, 2201, 50), xAxis: true,
  marks: [ruleSignals(), Plot.line(spx, {x: "date", y: "v", stroke: "#000", strokeWidth: 1.9, clip: true})]
});
legend(mainSvg, 15, 27, [{x: 31, y: 39.5, parts: [{text: "S&P 500 Large Cap Index (Daily) 2170.06"}]}]);
d3.select(mainSvg).append("path").attr("d", "M6,5v9M4.5,7h1.5M6,12h1.5M10,4v9M8.5,9h1.5M10,6h1.5").attr("stroke", "#000").attr("stroke-width", 1.2).attr("fill", "none");
{
  const sx = mainSvg.scale("x"), sy = mainSvg.scale("y");
  const g = d3.select(mainSvg).append("g");
  for (const a of arrowsData) {
    const x1 = sx.apply(D(a.x1)), y1 = sy.apply(a.y1), x2 = sx.apply(D(a.x2)), y2 = sy.apply(a.y2);
    const len = Math.hypot(x2 - x1, y2 - y1), ux = (x2 - x1) / len, uy = (y2 - y1) / len, L = 13, W = 7;
    const bx = x2 - ux * L, by = y2 - uy * L;
    g.append("line").attr("x1", x1).attr("y1", y1).attr("x2", bx).attr("y2", by).attr("stroke", "#f21414").attr("stroke-width", 2.6);
    g.append("polygon").attr("points", `${x2},${y2} ${bx - uy * W},${by + ux * W} ${bx + uy * W},${by - ux * W}`).attr("fill", "#f21414");
  }
}

// ---------------- PMO ----------------
const pmoSvg = leftPanel({
  top: 365, h: 162, yDomain: [-3.651, 2.305], yTicks: pmoTicks, yFmt: d => d.toFixed(1),
  yGrid: d3.range(-3.5, 2.26, 0.25),
  marks: [Plot.ruleY([0], {stroke: ZERO, strokeWidth: 1.3}), ruleSignals(),
    Plot.line(series(pmoSignal), {x: "date", y: "v", stroke: EMA, strokeWidth: 1.1, curve: "monotone-x", clip: true}),
    Plot.line(series(pmoLine), {x: "date", y: "v", stroke: "#000", strokeWidth: 1.8, clip: true})]
});
legend(pmoSvg, 15, 364, [{swatch: "#000", x: 31, y: 376.5, parts: [{text: "PMO(35,20,10) 1.25, "}, {text: "1.12", fill: "#a3102c"}]}]);

// ---------------- VTO ----------------
const vtoSvg = leftPanel({
  top: 527, h: 129, yDomain: [-97.4, 83], yTicks: vtoTicks, yFmt: d => String(d),
  yGrid: d3.range(-87.5, 80, 12.5),
  marks: [Plot.ruleY([0], {stroke: ZERO, strokeWidth: 1.3}), ruleSignals(),
    Plot.ruleY([vtoHigh], {stroke: "#1b2be0", strokeDasharray: "4,3", strokeWidth: 1.2}),
    Plot.line(series(vtoLine), {x: "date", y: "v", stroke: C_VTO, strokeWidth: 1.3, clip: true}),
    Plot.line(series(vtoEma), {x: "date", y: "v", stroke: EMA, strokeWidth: 1.2, curve: "monotone-x", clip: true}),
    Plot.dot([highlightVto], {x: d => D(d.date), y: "v", r: 10.5, fill: "#6a6ae6", fillOpacity: 0.4, stroke: "#5050c8", strokeOpacity: 0.5})]
});
legend(vtoSvg, 15, 526, [
  {swatch: C_VTO, x: 31, y: 538, parts: [{text: "SPX Volume Trend Osc (VTO) 36.00"}]},
  {swatch: EMA, x: 30, y: 550, parts: [{text: "EMA(10) 45.67", fill: "#d0103a"}]}]);

// ---------------- ITBM ----------------
const itbmSvg = leftPanel({
  top: 656, h: 129, yDomain: [-271.5, 249.7], yTicks: itbmTicks, yFmt: d => String(d),
  yGrid: d3.range(-250, 250, 50),
  marks: [Plot.ruleY([0], {stroke: ZERO, strokeWidth: 1.3}), ruleSignals(),
    Plot.ruleY([itbmHigh], {stroke: "#1b2be0", strokeDasharray: "4,3", strokeWidth: 1.2}),
    Plot.line(series(itbmLine), {x: "date", y: "v", stroke: C_ITBM, strokeWidth: 1.3, clip: true}),
    Plot.line(series(itbmEma), {x: "date", y: "v", stroke: EMA, strokeWidth: 1.2, curve: "monotone-x", clip: true}),
    Plot.dot([highlightItbm], {x: d => D(d.date), y: "v", r: 10, fill: "#6a6ae6", fillOpacity: 0.4, stroke: "#5050c8", strokeOpacity: 0.5})]
});
legend(itbmSvg, 15, 655, [
  {swatch: C_ITBM, x: 31, y: 667, parts: [{text: "SPX IT Breadth Momentum Osc (ITBM) 182.22"}]},
  {swatch: EMA, x: 30, y: 679, parts: [{text: "EMA(10) 194.28", fill: "#d0103a"}]}]);

// ---------------- ITVM ----------------
const itvmSvg = leftPanel({
  top: 785, h: 129, yDomain: [-279.2, 279.2], yTicks: itvmTicks, yFmt: d => String(d),
  yGrid: d3.range(-250, 276, 50), xAxis: true,
  marks: [Plot.ruleY([0], {stroke: ZERO, strokeWidth: 1.3}), ruleSignals(),
    Plot.ruleY([itvmHigh], {stroke: "#1b2be0", strokeDasharray: "4,3", strokeWidth: 1.2}),
    Plot.line(series(itvmLine), {x: "date", y: "v", stroke: C_ITVM, strokeWidth: 1.3, clip: true}),
    Plot.line(series(itvmEma), {x: "date", y: "v", stroke: EMA, strokeWidth: 1.2, curve: "monotone-x", clip: true})]
});
legend(itvmSvg, 15, 784, [
  {swatch: C_ITVM, x: 31, y: 795.5, parts: [{text: "SPX IT Volume Momentum Osc (ITVM) 222.31"}]},
  {swatch: EMA, x: 30, y: 807.5, parts: [{text: "EMA(10) 221.64", fill: "#d0103a"}]}]);

// ---------------- MINI PANELS ----------------
const bars = miniDates.map((d, k) => ({i: k - 1, o: barOpen[k], h: barHigh[k], l: barLow[k], c: barClose[k]})).filter(d => d.o != null);
rightPanel({
  top: 28, h: 324, yDomain: [2071.6, 2177.6], yTicks: miniPriceTicks, yFmt: d => String(d),
  yGrid: d3.range(2075, 2176, 5), xAxis: true,
  tags: [[barClose[barClose.length - 1], "2170.06", "#000", true]],
  marks: [
    Plot.ruleX(bars, {x: "i", y1: "l", y2: "h", stroke: "#000", strokeWidth: 1.3}),
    Plot.link(bars, {x1: d => d.i - 0.5, x2: "i", y1: "o", y2: "o", stroke: "#000", strokeWidth: 1.3}),
    Plot.link(bars, {x1: "i", x2: d => d.i + 0.5, y1: "c", y2: "c", stroke: "#000", strokeWidth: 1.3})]
});
rightPanel({
  top: 365, h: 162, yDomain: [0.022, 1.308], yTicks: miniPmoTicks, yFmt: d => d.toFixed(1),
  yGrid: d3.range(0.05, 1.31, 0.05),
  tags: [[1.12, "1.12", "#c0103a", false], [1.25, "1.25", "#000", false]],
  marks: [Plot.line(mini(miniPmoSig), {x: "i", y: "v", stroke: EMA, strokeWidth: 1.2, curve: "monotone-x", clip: true}),
    Plot.line(mini(miniPmo), {x: "i", y: "v", stroke: "#000", strokeWidth: 1.8, curve: "monotone-x", clip: true})]
});
rightPanel({
  top: 527, h: 129, yDomain: [16.2, 64.6], yTicks: miniVtoTicks, yFmt: d => String(d),
  yGrid: d3.range(17.5, 64, 2.5),
  tags: [[45.67, "45.67", "#d0103a", false], [36.00, "36.00", C_VTO, true]],
  marks: [Plot.line(mini(miniVtoEma), {x: "i", y: "v", stroke: EMA, strokeWidth: 1.2, curve: "monotone-x", clip: true}),
    Plot.line(mini(miniVto), {x: "i", y: "v", stroke: C_VTO, strokeWidth: 1.3, clip: true})]
});
rightPanel({
  top: 656, h: 129, yDomain: [77.3, 228.9], yTicks: miniItbmTicks, yFmt: d => String(d),
  yGrid: d3.range(87.5, 229, 12.5),
  tags: [[194.28, "194.28", "#d0103a", false], [182.22, "182.22", C_ITBM, true]],
  marks: [Plot.line(mini(miniItbmEma), {x: "i", y: "v", stroke: EMA, strokeWidth: 1.2, curve: "monotone-x", clip: true}),
    Plot.line(mini(miniItbm), {x: "i", y: "v", stroke: C_ITBM, strokeWidth: 1.3, clip: true})]
});
rightPanel({
  top: 785, h: 129, yDomain: [48, 261], yTicks: miniItvmTicks, yFmt: d => String(d),
  yGrid: d3.range(50, 261, 12.5), xAxis: true,
  tags: [[221.64, "221.64", "#d0103a", false], [222.31, "222.31", C_ITVM, true]],
  marks: [Plot.line(mini(miniItvmEma), {x: "i", y: "v", stroke: EMA, strokeWidth: 1.2, curve: "monotone-x", clip: true}),
    Plot.line(mini(miniItvm), {x: "i", y: "v", stroke: C_ITVM, strokeWidth: 1.3, clip: true})]
});

// outer border
const border = document.createElement("div");
border.style.cssText = "position:absolute;left:0;top:0;width:930px;height:931px;box-sizing:border-box;border:1px solid #858595;pointer-events:none;";
root.appendChild(border);
</script></body></html>
